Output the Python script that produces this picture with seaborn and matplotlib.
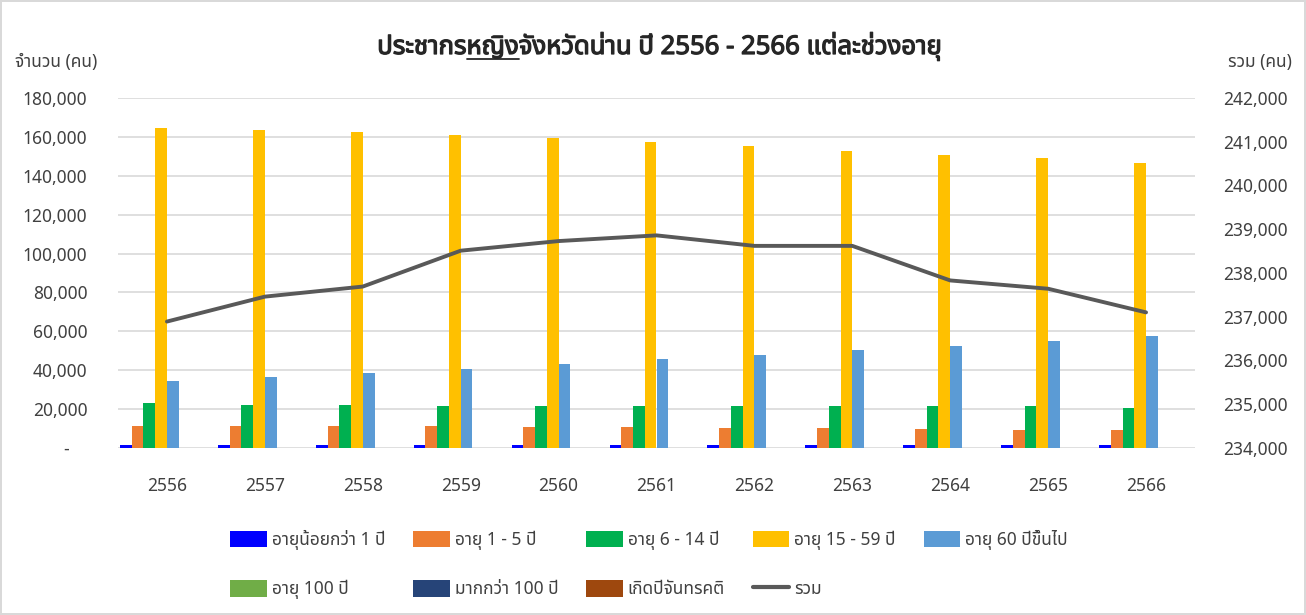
import numpy as np
import pandas as pd
import seaborn as sns
import matplotlib
matplotlib.use("Agg")
import matplotlib.pyplot as plt
import matplotlib.patheffects as pe
from matplotlib import font_manager
from matplotlib.ft2font import FT2Font
from matplotlib.lines import Line2D
from matplotlib.patches import Patch
from matplotlib.ticker import FuncFormatter, MultipleLocator

# ข้อมูลประชากรหญิง จ.น่าน (อ่านค่าจากกราฟ)
years = ['2556', '2557', '2558', '2559', '2560', '2561',
         '2562', '2563', '2564', '2565', '2566']

under_1 = [1800, 1800, 1800, 1750, 1700, 1500, 1450, 1450, 1450, 1400, 1400]
age_1_5 = [11500, 11500, 11500, 11500, 10800, 10800, 10500, 10200, 9700, 9200, 9200]
age_6_14 = [23000, 22000, 22000, 21800, 21800, 21800, 21800, 21800, 21800, 21400, 20600]
age_15_59 = [164400, 163700, 162400, 161100, 159300, 157500, 155200, 152900, 150800, 149000, 146700]
age_60_up = [34500, 36300, 38700, 40700, 43100, 45700, 47900, 50200, 52400, 55200, 57400]
age_100 = [0, 0, 0, 0, 0, 0, 0, 0, 0, 0, 0]
over_100 = [0, 0, 0, 0, 0, 0, 0, 0, 0, 0, 0]
lunar = [0, 0, 0, 0, 0, 0, 0, 0, 0, 0, 0]
total = [236890, 237460, 237690, 238510, 238730, 238860, 238620, 238620, 237830, 237640, 237100]

series_names = ['อายุน้อยกว่า 1 ปี', 'อายุ 1 - 5 ปี', 'อายุ 6 - 14 ปี', 'อายุ 15 - 59 ปี',
                'อายุ 60 ปีขึ้นไป', 'อายุ 100 ปี', 'มากกว่า 100 ปี', 'เกิดปีจันทรคติ']
series_values = [under_1, age_1_5, age_6_14, age_15_59, age_60_up, age_100, over_100, lunar]
colors = ['#0000FF', '#ED7D31', '#00B050', '#FFC000', '#5B9BD5', '#70AD47', '#264478', '#9E480E']
line_color = '#595959'
total_name = 'รวม'


def find_thai_font():
    preferred = ['Tahoma', 'Leelawadee UI', 'Noto Sans Thai', 'Noto Sans Thai UI',
                 'Sarabun', 'Loma', 'Garuda', 'Waree', 'Umpush', 'Kinnari', 'Norasi']
    found = {}
    for f in font_manager.fontManager.ttflist:
        if f.name in found:
            continue
        try:
            cmap = FT2Font(f.fname).get_charmap()
        except Exception:
            continue
        if 0x0E01 in cmap and 0x0E35 in cmap:
            found[f.name] = f.fname
    for p in preferred:
        if p in found:
            return p
    return next(iter(found), None)


sns.set_style('white')
thai = find_thai_font()
plt.rcParams['font.family'] = ([thai] if thai else []) + ['DejaVu Sans']

rows = []
for name, vals in zip(series_names, series_values):
    for y, v in zip(years, vals):
        rows.append({'ปี': y, 'กลุ่มอายุ': name, 'จำนวน': v})
df = pd.DataFrame(rows)

W, H = 1306, 615
fig = plt.figure(figsize=(W / 100, H / 100), dpi=100)
fig.patch.set_edgecolor('#D9D9D9')
fig.patch.set_linewidth(1.5)
ax = fig.add_axes([118 / W, 1 - 448 / H, (1195 - 118) / W, (448 - 98) / H])

sns.barplot(data=df, x='ปี', y='จำนวน', hue='กลุ่มอายุ', hue_order=series_names,
            order=years, palette=colors, saturation=1, width=0.96, gap=0,
            linewidth=0, legend=False, ax=ax)

ax.set_xlim(-0.5, len(years) - 0.5)
ax.set_ylim(0, 180000)
ax.yaxis.set_major_locator(MultipleLocator(20000))
ax.yaxis.set_major_formatter(FuncFormatter(lambda v, _: '-    ' if v == 0 else f'{v:,.0f}'))
ax.yaxis.grid(True, color='#D9D9D9', linewidth=1.2)
ax.set_axisbelow(True)
ax.set_xlabel('')
ax.set_ylabel('')
for s in ax.spines.values():
    s.set_visible(False)
ax.tick_params(axis='y', length=0, pad=22, labelsize=12.5, labelcolor='#404040')
ax.tick_params(axis='x', length=0, pad=21, labelsize=12.5, labelcolor='#404040')

ax2 = ax.twinx()
sns.lineplot(x=np.arange(len(years)), y=total, color=line_color, linewidth=2.8, ax=ax2)
ax2.set_xlim(-0.5, len(years) - 0.5)
ax2.set_ylim(234000, 242000)
ax2.yaxis.set_major_locator(MultipleLocator(1000))
ax2.yaxis.set_major_formatter(FuncFormatter(lambda v, _: f'{v:,.0f}'))
for s in ax2.spines.values():
    s.set_visible(False)
ax2.tick_params(axis='y', length=0, pad=20, labelsize=12.5, labelcolor='#404040')
ax2.set_ylabel('')

fig.text(15 / W, 1 - 62 / H, 'จำนวน (คน)', ha='left', va='center', fontsize=12.5, color='#404040')
fig.text(1292 / W, 1 - 62 / H, 'รวม (คน)', ha='right', va='center', fontsize=12.5, color='#404040')

title_str = 'ประชากรหญิงจังหวัดน่าน ปี 2556 - 2566 แต่ละช่วงอายุ'
title_kw = dict(fontsize=18.5, fontweight='bold', color='#262626')
title = fig.text(0.505, 1 - 47 / H, title_str, ha='center', va='center', **title_kw)
title.set_path_effects([pe.withStroke(linewidth=0.9, foreground='#262626')])

# legend: จัดลำดับให้เรียงตามแถวเหมือนต้นฉบับ
handles = [Patch(facecolor=c, edgecolor='none') for c in colors]
handles.append(Line2D([], [], color=line_color, linewidth=3))
labels = series_names + [total_name]
order = [0, 5, 1, 6, 2, 7, 3, 8, 4]
fig.legend([handles[i] for i in order], [labels[i] for i in order],
           ncol=5, loc='upper center', bbox_to_anchor=(0.497, 1 - 521 / H),
           frameon=False, fontsize=12.5, handlelength=2.1, handleheight=1.1,
           handletextpad=0.3, columnspacing=1.6, labelspacing=1.75, borderpad=0,
           labelcolor='#404040')

# ขีดเส้นใต้คำว่า "หญิง" ในชื่อกราฟ
fig.canvas.draw()
r = fig.canvas.get_renderer()
bb = title.get_window_extent(r)


def text_width(s):
    t = fig.text(0, 0, s, **title_kw)
    w = t.get_window_extent(r).width
    t.remove()
    return w


x0 = bb.x0 + text_width('ประชากร')
x1 = bb.x0 + text_width('ประชากรหญิง')
yl = bb.y0 + 2
fig.add_artist(Line2D([x0 / W, x1 / W], [yl / H, yl / H], transform=fig.transFigure,
                      color='#262626', linewidth=1.3))

fig.savefig('out.png', dpi=100)
